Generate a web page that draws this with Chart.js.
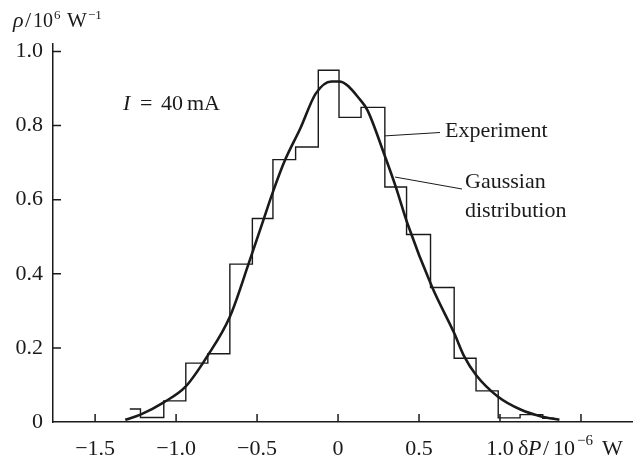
<!DOCTYPE html>
<html>
<head>
<meta charset="utf-8">
<script src="https://cdn.jsdelivr.net/npm/chart.js@4.4.0/dist/chart.umd.min.js"></script>
<style>
  html, body { margin: 0; padding: 0; background: #fff; }
  #wrap { width: 638px; height: 459px; position: relative; }
</style>
</head>
<body>
<div id="wrap"><canvas id="chart"></canvas></div>
<script>
// histogram (experiment): bin edges and bin heights, 10^6 W^-1
const binEdges = [-1.286, -1.220, -1.076, -0.940, -0.804, -0.668, -0.529, -0.402, -0.262, -0.122,
                  0.006, 0.142, 0.289, 0.423, 0.571, 0.717, 0.852, 0.989, 1.124, 1.264, 1.334];
const binHeights = [0.035, 0.012, 0.057, 0.159, 0.184, 0.426, 0.549, 0.708, 0.742, 0.949,
                    0.822, 0.849, 0.634, 0.506, 0.363, 0.172, 0.084, 0.011, 0.020, 0.010];

// fitted gaussian curve
const gaussX = [-1.314, -1.220, -1.076, -0.940, -0.808, -0.668, -0.550, -0.458, -0.402, -0.328,
                -0.231, -0.138, -0.041, 0.006, 0.140, 0.182, 0.284, 0.357, 0.429, 0.580,
                0.717, 0.779, 0.852, 0.986, 1.130, 1.254, 1.367];
const gaussY = [0.006, 0.020, 0.053, 0.096, 0.177, 0.284, 0.430, 0.549, 0.621, 0.706,
                0.794, 0.886, 0.919, 0.919, 0.868, 0.841, 0.724, 0.634, 0.535, 0.365,
                0.240, 0.177, 0.127, 0.069, 0.033, 0.015, 0.006];

const xTicks = [-1.5, -1.0, -0.5, 0, 0.5, 1.0, 1.5];
const xTickLabels = ['\u22121.5', '\u22121.0', '\u22120.5', '0', '0.5', '1.0', ''];
const yTicks = [0, 0.2, 0.4, 0.6, 0.8, 1.0];
const yTickLabels = ['0', '0.2', '0.4', '0.6', '0.8', '1.0'];

const SERIF = '"Liberation Serif", "Times New Roman", serif';
const INK = '#1a1a1a';

// stepped line: one point per bin left edge, plus the closing right edge
const histPoints = binHeights.map((h, i) => ({ x: binEdges[i], y: h }));
histPoints.push({ x: binEdges[binEdges.length - 1], y: binHeights[binHeights.length - 1] });

const gaussPoints = gaussX.map((x, i) => ({ x: x, y: gaussY[i] }));

function drawParts(ctx, baseline, parts) {
    parts.forEach(p => {
        ctx.font = (p.italic ? 'italic ' : '') + p.size + 'px ' + SERIF;
        ctx.fillText(p.t, p.x, baseline - (p.rise || 0));
    });
}

const decor = {
    id: 'decor',
    afterDraw(chart) {
        const ctx = chart.ctx;
        const xs = chart.scales.x;
        const ys = chart.scales.y;
        const area = chart.chartArea;
        ctx.save();
        ctx.strokeStyle = INK;
        ctx.lineWidth = 1.5;

        // tick marks point inwards
        ctx.beginPath();
        xTicks.forEach(v => {
            const px = xs.getPixelForValue(v);
            ctx.moveTo(px, area.bottom);
            ctx.lineTo(px, area.bottom - 8);
        });
        yTicks.slice(1).forEach(v => {
            const py = ys.getPixelForValue(v);
            ctx.moveTo(area.left, py);
            ctx.lineTo(area.left + 8, py);
        });
        ctx.stroke();

        // leader lines for the labels
        ctx.lineWidth = 1;
        ctx.beginPath();
        ctx.moveTo(xs.getPixelForValue(0.289), ys.getPixelForValue(0.772));
        ctx.lineTo(440, 132.5);
        ctx.moveTo(xs.getPixelForValue(0.352), ys.getPixelForValue(0.661));
        ctx.lineTo(462, 189);
        ctx.stroke();

        ctx.fillStyle = INK;
        ctx.textAlign = 'left';
        ctx.textBaseline = 'alphabetic';

        // y axis title: rho / 10^6 W^-1
        drawParts(ctx, 27, [
            { t: '\u03c1', x: 13, size: 22, italic: true },
            { t: '/', x: 25, size: 22 },
            { t: '10', x: 33, size: 20 },
            { t: '6', x: 54, size: 13, rise: 8 },
            { t: 'W', x: 67, size: 21 },
            { t: '\u22121', x: 88, size: 13, rise: 8 }
        ]);

        // x axis title: dP / 10^-6 W
        drawParts(ctx, 455, [
            { t: '\u03b4', x: 518, size: 22 },
            { t: 'P', x: 528, size: 22, italic: true },
            { t: '/', x: 543, size: 22 },
            { t: '10', x: 553, size: 22 },
            { t: '\u22126', x: 577, size: 15, rise: 10 },
            { t: 'W', x: 602, size: 22 }
        ]);

        // I = 40 mA
        drawParts(ctx, 110, [
            { t: 'I', x: 123, size: 22, italic: true },
            { t: '=', x: 140, size: 22 },
            { t: '40', x: 161, size: 22 },
            { t: 'mA', x: 187, size: 22 }
        ]);

        ctx.font = '22px ' + SERIF;
        ctx.fillText('Experiment', 445, 137);
        ctx.fillText('Gaussian', 465, 188);
        ctx.fillText('distribution', 465, 217);
        ctx.restore();
    }
};

new Chart(document.getElementById('chart'), {
    type: 'line',
    data: {
        datasets: [
            {
                label: 'Gaussian distribution',
                data: gaussPoints,
                borderColor: INK,
                borderWidth: 2.6,
                pointRadius: 0,
                cubicInterpolationMode: 'monotone',
                fill: false
            },
            {
                label: 'Experiment',
                data: histPoints,
                borderColor: INK,
                borderWidth: 1.4,
                pointRadius: 0,
                stepped: true,
                fill: false
            }
        ]
    },
    options: {
        responsive: true,
        maintainAspectRatio: false,
        animation: false,
        layout: { padding: { top: 44, right: 6, left: 0, bottom: 0 } },
        plugins: { legend: { display: false }, tooltip: { enabled: false } },
        scales: {
            x: {
                type: 'linear',
                min: -1.76,
                max: 1.815,
                grid: { display: true, drawOnChartArea: false, drawTicks: false },
                border: { display: true, color: INK, width: 1.5 },
                afterBuildTicks: s => { s.ticks = xTicks.map(v => ({ value: v })); },
                afterFit: s => { s.height = 37; },
                ticks: {
                    color: INK,
                    font: { family: SERIF, size: 22 },
                    padding: 14,
                    maxRotation: 0,
                    autoSkip: false,
                    callback: (v, i) => xTickLabels[i]
                }
            },
            y: {
                min: 0,
                max: 1.02,
                grid: { display: true, drawOnChartArea: false, drawTicks: false },
                border: { display: true, color: INK, width: 1.5 },
                afterBuildTicks: s => { s.ticks = yTicks.map(v => ({ value: v })); },
                afterFit: s => { s.width = 53; },
                ticks: {
                    color: INK,
                    font: { family: SERIF, size: 22 },
                    padding: 10,
                    autoSkip: false,
                    callback: (v, i) => yTickLabels[i]
                }
            }
        }
    },
    plugins: [decor]
});
</script>
</body>
</html>
